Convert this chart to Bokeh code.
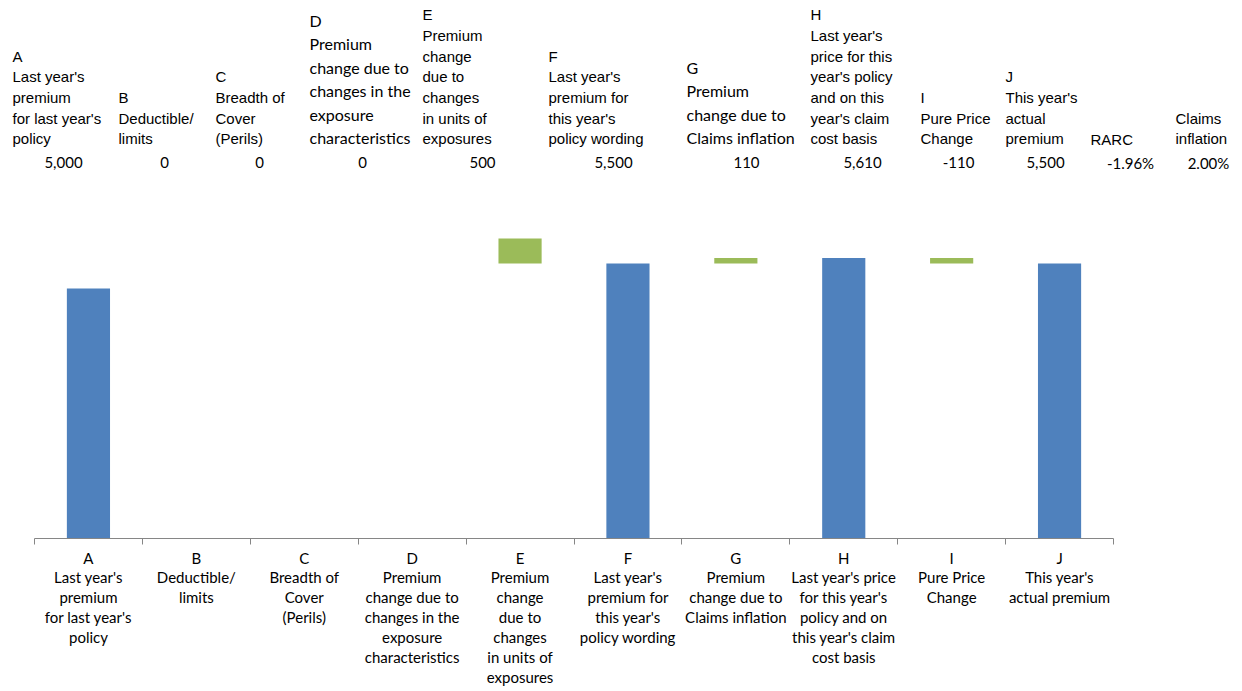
from bokeh.plotting import figure
from bokeh.layouts import column
from bokeh.models import Range1d, LinearAxis, FixedTicker, ColumnDataSource
from bokeh.core.properties import value
from bokeh.embed import file_html
from bokeh.resources import INLINE

# ---------------- data ----------------
letters = ["A", "B", "C", "D", "E", "F", "G", "H", "I", "J"]
axis_labels = [
    "A\nLast year's\npremium\nfor last year's\npolicy",
    "B\nDeductible/\nlimits",
    "C\nBreadth of\nCover\n(Perils)",
    "D\nPremium\nchange due to\nchanges in the\nexposure\ncharacteristics",
    "E\nPremium\nchange\ndue to\nchanges\nin units of\nexposures",
    "F\nLast year's\npremium for\nthis year's\npolicy wording",
    "G\nPremium\nchange due to\nClaims inflation",
    "H\nLast year's price\nfor this year's\npolicy and on\nthis year's claim\ncost basis",
    "I\nPure Price\nChange",
    "J\nThis year's\nactual premium",
]
header_labels = [
    "A\nLast year's\npremium\nfor last year's\npolicy",
    "B\nDeductible/\nlimits",
    "C\nBreadth of\nCover\n(Perils)",
    "D\nPremium\nchange due to\nchanges in the\nexposure\ncharacteristics",
    "E\nPremium\nchange\ndue to\nchanges\nin units of\nexposures",
    "F\nLast year's\npremium for\nthis year's\npolicy wording",
    "G\nPremium\nchange due to\nClaims inflation",
    "H\nLast year's\nprice for this\nyear's policy\nand on this\nyear's claim\ncost basis",
    "I\nPure Price\nChange",
    "J\nThis year's\nactual\npremium",
    "RARC",
    "Claims\ninflation",
]
premium_values = [5000, 0, 0, 0, 500, 5500, 110, 5610, -110, 5500]
bar_base = [0, 0, 0, 0, 5500, 0, 5500, 0, 5500, 0]
bar_kind = ["total", "step", "step", "step", "step", "total", "step", "total", "step", "total"]
rarc_pct = -1.96
claims_inflation_pct = 2.00

# ---------------- styles / layout ----------------
BLUE = "#4F81BD"
GREEN = "#9BBB59"
AXIS_GREY = "#868686"
ARIAL = "Liberation Sans"
CALIBRI = "Lato"
W, H_HEAD, H_CHART = 1242, 180, 511
LEFT, RIGHT = 34, 129

header_x = [12, 118, 215, 309, 422, 548, 686, 810, 920, 1005, 1090, 1175]
header_font = [ARIAL, ARIAL, ARIAL, CALIBRI, ARIAL, ARIAL, CALIBRI, ARIAL, ARIAL, ARIAL, ARIAL, ARIAL]
value_cx = [63, 164, 259, 362, 482, 613, 746, 862, 958, 1045, 1130, 1208]

# ---------------- header table ----------------
head = figure(width=W, height=H_HEAD, x_range=Range1d(0, W),
              y_range=Range1d(H_HEAD, 0), min_border=0,
              toolbar_location=None, output_backend="svg",
              x_axis_location=None, y_axis_location=None, outline_line_color=None)
head.grid.visible = False

for font in (ARIAL, CALIBRI):
    idx = [i for i, f in enumerate(header_font) if f == font]
    src = ColumnDataSource(dict(x=[header_x[i] for i in idx],
                                y=[147] * len(idx),
                                t=[header_labels[i] for i in idx]))
    if font == ARIAL:
        head.text(x="x", y="y", text="t", source=src, text_font=value(ARIAL),
                  text_font_size="15px", text_line_height=1.22, text_baseline="bottom",
                  text_align="left", text_color="black")
    else:
        head.text(x="x", y="y", text="t", source=src, text_font=value(CALIBRI),
                  text_font_size="16px", text_line_height=1.24, text_baseline="bottom",
                  text_align="left", text_color="black")

value_texts = [f"{v:,}" for v in premium_values] + [f"{rarc_pct:.2f}%", f"{claims_inflation_pct:.2f}%"]
vsrc = ColumnDataSource(dict(x=value_cx, y=[162] * len(value_cx), t=value_texts))
head.text(x="x", y="y", text="t", source=vsrc, text_font=value(CALIBRI), text_font_size="15px",
          text_baseline="middle", text_align="center", text_color="black")

# ---------------- waterfall chart ----------------
n = len(letters)
slot_center = [i + 0.5 for i in range(n)]          # category slot centres on the linear scale
tops = [b + abs(v) for b, v in zip(bar_base, premium_values)]
colors = [BLUE if k == "total" else GREEN for k in bar_kind]
src = ColumnDataSource(dict(x=slot_center, bottom=bar_base, top=tops, color=colors))

p = figure(width=W, height=H_CHART, x_range=Range1d(0, n),
           y_range=Range1d(0, 7160), min_border_left=LEFT, min_border_right=RIGHT,
           min_border_top=0, min_border_bottom=153, toolbar_location=None,
           output_backend="svg", x_axis_location=None, y_axis_location=None,
           outline_line_color=None)
p.grid.visible = False
p.vbar(x="x", bottom="bottom", top="top", width=0.4, source=src, fill_color="color",
       line_color="color", line_width=0)

tick_axis = LinearAxis(ticker=FixedTicker(ticks=list(range(n + 1)), minor_ticks=[]),
                       major_tick_in=0, major_tick_out=6, minor_tick_line_color=None,
                       major_label_overrides={i: "" for i in range(n + 1)},
                       major_label_text_font_size="1px", major_label_standoff=0,
                       axis_line_color=AXIS_GREY, major_tick_line_color=AXIS_GREY)
label_axis = LinearAxis(ticker=FixedTicker(ticks=slot_center, minor_ticks=[]),
                        axis_line_color=None, major_tick_line_color=None,
                        minor_tick_line_color=None, major_tick_in=0, major_tick_out=0,
                        major_label_overrides={c: lab for c, lab in zip(slot_center, axis_labels)},
                        major_label_text_font=CALIBRI, major_label_text_font_size="15px",
                        major_label_text_line_height=1.11, major_label_standoff=4,
                        major_label_text_color="black")
p.add_layout(tick_axis, "below")
p.add_layout(label_axis, "below")

# keep each figure's frame independent (header spans the full width)
for fig in (head, p):
    if "frame_align" in fig.properties():
        fig.frame_align = False

layout = column(head, p, spacing=0)
open("out.html", "w").write(file_html(layout, INLINE))
